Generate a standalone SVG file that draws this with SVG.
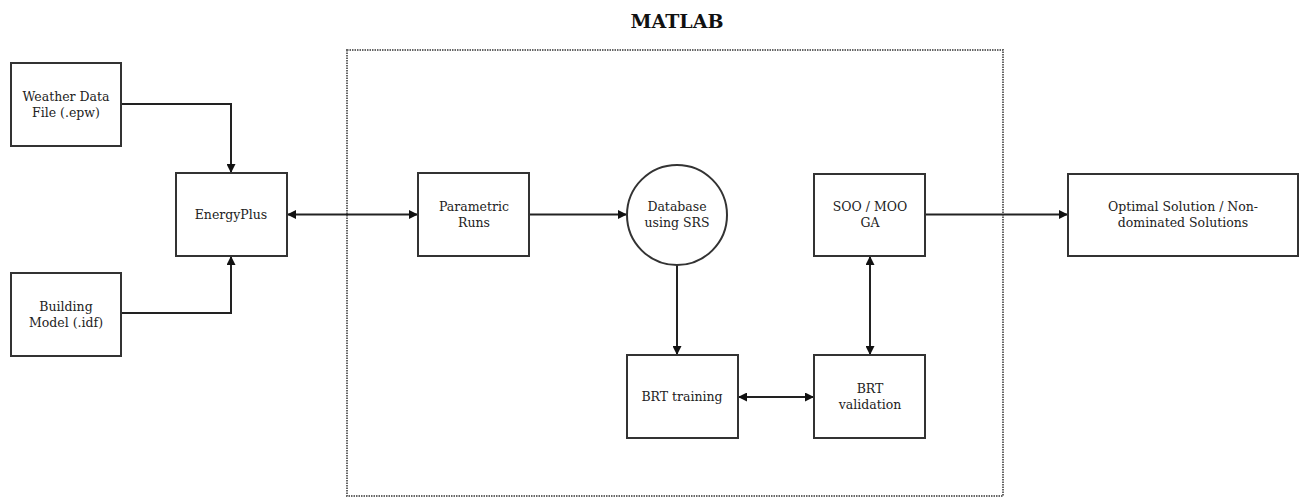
<svg xmlns="http://www.w3.org/2000/svg" width="1300" height="497" viewBox="0 0 1300 497">
<style>
.box{fill:#fff;stroke:#333;stroke-width:2}
.t{font-family:"DejaVu Serif","Liberation Serif",serif;font-size:12.5px;fill:#222;text-anchor:middle}
.c{fill:none;stroke:#222;stroke-width:2}
</style>
<defs>
<marker id="ah" viewBox="0 0 10 10" refX="10" refY="5" markerWidth="9" markerHeight="9" markerUnits="userSpaceOnUse" orient="auto-start-reverse">
<path d="M0,0 L10,5 L0,10 z" fill="#111"/>
</marker>
</defs>
<rect width="1300" height="497" fill="#fff"/>
<g id="matlab">
<rect x="347" y="50" width="656" height="446" fill="none" stroke="#666" stroke-width="2" stroke-dasharray="1.5,1"/>
<text x="677" y="28" font-family="DejaVu Serif, Liberation Serif, serif" font-size="19" font-weight="bold" fill="#111" text-anchor="middle">MATLAB</text>
</g>
<g id="connectors">
<path class="c" d="M121,104 H231 V173" marker-end="url(#ah)"/>
<path class="c" d="M121,313 H231 V256" marker-end="url(#ah)"/>
<path class="c" d="M287,214.5 H418" marker-start="url(#ah)" marker-end="url(#ah)"/>
<path class="c" d="M529,214.5 H627" marker-end="url(#ah)"/>
<path class="c" d="M677,265 V355" marker-end="url(#ah)"/>
<path class="c" d="M738,397 H814" marker-start="url(#ah)" marker-end="url(#ah)"/>
<path class="c" d="M870,256 V355" marker-start="url(#ah)" marker-end="url(#ah)"/>
<path class="c" d="M925,214.5 H1068" marker-end="url(#ah)"/>
</g>
<g id="weather">
<rect class="box" x="11" y="63" width="110" height="83"/>
<text class="t" x="66" y="101">Weather Data</text>
<text class="t" x="66" y="117">File (.epw)</text>
</g>
<g id="building">
<rect class="box" x="11" y="273" width="110" height="83"/>
<text class="t" x="66" y="311">Building</text>
<text class="t" x="66" y="327">Model (.idf)</text>
</g>
<g id="energyplus">
<rect class="box" x="176" y="173" width="111" height="83"/>
<text class="t" x="231" y="219">EnergyPlus</text>
</g>
<g id="parametric">
<rect class="box" x="418" y="173" width="111" height="83"/>
<text class="t" x="474" y="211">Parametric</text>
<text class="t" x="474" y="227">Runs</text>
</g>
<g id="database">
<circle class="box" cx="677" cy="215" r="50"/>
<text class="t" x="677" y="211">Database</text>
<text class="t" x="677" y="227">using SRS</text>
</g>
<g id="brt-training">
<rect class="box" x="627" y="355" width="111" height="83"/>
<text class="t" x="682" y="401">BRT training</text>
</g>
<g id="brt-validation">
<rect class="box" x="814" y="355" width="111" height="83"/>
<text class="t" x="870" y="393">BRT</text>
<text class="t" x="870" y="409">validation</text>
</g>
<g id="soo-moo">
<rect class="box" x="814" y="174" width="111" height="82"/>
<text class="t" x="870" y="211">SOO / MOO</text>
<text class="t" x="870" y="227">GA</text>
</g>
<g id="optimal">
<rect class="box" x="1068" y="174" width="230" height="82"/>
<text class="t" x="1183" y="211">Optimal Solution / Non-</text>
<text class="t" x="1183" y="227">dominated Solutions</text>
</g>
</svg>
